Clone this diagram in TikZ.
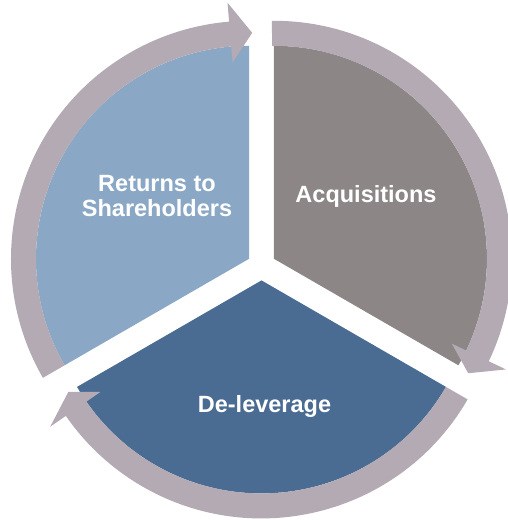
\documentclass[tikz,border=0pt]{standalone}
\usepackage{fontspec}
\setmainfont{Liberation Sans}
\definecolor{cpale}{HTML}{8AA8C5}
\definecolor{cstone}{HTML}{8C8686}
\definecolor{cnavy}{HTML}{4A6C93}
\definecolor{cband}{HTML}{B3AAB3}
\tikzset{
  every picture/.style={x=1pt, y=1pt},
  sector/.style={fill=#1},
  band/.style={fill=cband},
  caption/.style={text=white, font=\fontsize{23.5}{25}\selectfont\bfseries, align=center},
}

\begin{document}
\begin{tikzpicture}
  \useasboundingbox (-261.5,-254) rectangle (246.5,266);
  % Acquisitions, pushed out along 30 deg
  \begin{scope}[shift={(30:14.4)}]
    \fill[sector=cstone] (0,0) -- (90:213) arc (90:-30:213) -- cycle;
    \fill[band] (90.5:238) arc (90.5:-25.5:238) -- (-25.5:257) -- (-30.5:225.5) -- (-25.5:197) -- (-25.5:213) arc (-25.5:90.5:213) -- cycle;
  \end{scope}
  % De-leverage, pushed down
  \begin{scope}[shift={(270:14.4)}]
    \fill[sector=cnavy] (0,0) -- (-30:213) arc (-30:-150:213) -- cycle;
    \fill[band] (-30:238) arc (-30:-145.3:238) -- (-145.3:257) -- (-150:223) -- (-145.3:196) -- (-145.3:213) arc (-145.3:-30:213) -- cycle;
  \end{scope}
  % Returns to Shareholders, pushed out along 150 deg
  \begin{scope}[shift={(150:14.4)}]
    \fill[sector=cpale] (0,0) -- (210:213) arc (210:90:213) -- cycle;
    \fill[band] (210:238) arc (210:94.8:238) -- (94.8:257) -- (89.2:226) -- (94.8:197) -- (94.8:213) arc (94.8:210:213) -- cycle;
  \end{scope}
  \node[caption] (acq) at (104.5,70) {Acquisitions};
  \node[caption] (dlev) at (3,-140) {De-leverage};
  \node[caption] (ret) at (-104.5,70) {Returns to\\Shareholders};
\end{tikzpicture}
\end{document}
